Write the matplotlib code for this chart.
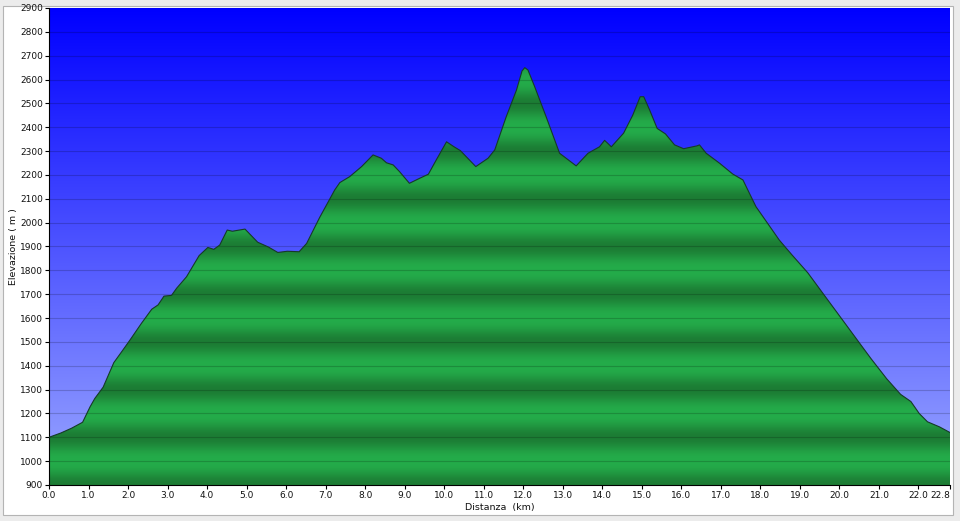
#!/usr/bin/env python3
"""Elevation profile (distance vs. elevation) rendered like the GPS-tool export."""
import numpy as np
import matplotlib
matplotlib.use("Agg")
import matplotlib.pyplot as plt
from matplotlib.patches import Rectangle

# profile
DIST_KM = [0.00, 0.30, 0.57, 0.85, 1.04, 1.16, 1.37, 1.64, 1.84, 2.05, 2.34, 2.60,
           2.76, 2.91, 3.10, 3.23, 3.48, 3.80, 4.02, 4.17, 4.32, 4.51, 4.64, 4.96,
           5.28, 5.55, 5.79, 6.03, 6.33, 6.52, 6.85, 7.23, 7.36, 7.61, 7.91, 8.20,
           8.41, 8.54, 8.71, 8.87, 9.12, 9.38, 9.60, 9.80, 10.06, 10.25, 10.41, 10.80,
           11.11, 11.28, 11.57, 11.83, 11.97, 12.04, 12.12, 12.29, 12.58, 12.92, 13.34,
           13.64, 13.93, 14.06, 14.23, 14.54, 14.77, 14.96, 15.05, 15.20, 15.39, 15.60,
           15.83, 16.06, 16.40, 16.46, 16.63, 16.97, 17.30, 17.56, 17.89, 18.48, 18.80,
           19.20, 19.60, 20.00, 20.40, 20.80, 21.20, 21.55, 21.81, 22.02, 22.23, 22.53,
           22.80]
ELEV_M = [1100, 1118, 1138, 1163, 1228, 1263, 1310, 1413, 1459, 1508, 1578, 1637,
          1655, 1692, 1695, 1725, 1773, 1862, 1896, 1888, 1906, 1969, 1964, 1973,
          1918, 1898, 1875, 1880, 1878, 1913, 2022, 2137, 2168, 2193, 2235, 2284,
          2270, 2251, 2242, 2214, 2165, 2186, 2203, 2263, 2339, 2318, 2302, 2235,
          2270, 2305, 2444, 2556, 2636, 2650, 2640, 2570, 2444, 2291, 2238,
          2291, 2318, 2345, 2318, 2375, 2450, 2528, 2528, 2472, 2395, 2372,
          2326, 2310, 2322, 2326, 2291, 2249, 2204, 2179, 2067, 1927, 1865,
          1790, 1700, 1610, 1520, 1430, 1345, 1280, 1250, 1200, 1165, 1144,
          1120]

X_TICKS = list(range(0, 23)) + [22.8]
Y_TICKS = list(range(900, 3000, 100))
X_MAX, Y_MIN, Y_MAX = 22.8, 900, 2900

W, H = 960, 521
PANEL_BG = "#ececec"
SKY_TOP = np.array([0, 0, 255]) / 255
SKY_BOTTOM = np.array([155, 168, 255]) / 255
GREEN_LIGHT = np.array([36, 172, 74]) / 255
GREEN_DARK = np.array([28, 124, 52]) / 255


def px(x0, y0, x1, y1):
    """pixel box (top-left origin) -> figure fraction rect"""
    return [x0 / W, 1 - y1 / H, (x1 - x0) / W, (y1 - y0) / H]


def main():
    fig = plt.figure(figsize=(W / 100, H / 100), dpi=100, facecolor=PANEL_BG)
    fig.patches.append(Rectangle((3 / W, 1 - 515 / H), 950 / W, 509 / H,
                                 transform=fig.transFigure, facecolor="white",
                                 edgecolor="#b4b4b4", lw=0.8, zorder=-10))
    ax = fig.add_axes(px(49, 8, 950, 485))

    # sky gradient
    t = np.linspace(0, 1, 256)[:, None]
    sky = SKY_TOP + (SKY_BOTTOM - SKY_TOP) * t
    ax.imshow(sky[:, None, :].repeat(2, axis=1), extent=(0, X_MAX, Y_MIN, Y_MAX),
              origin="upper", aspect="auto", interpolation="bilinear", zorder=0)

    # banded green terrain, clipped to the profile
    e = np.linspace(Y_MIN, Y_MAX, 1200)[:, None]
    f = ((np.cos(np.pi * (e - 1100) / 100) + 1) / 2) ** 1.3
    ground = GREEN_LIGHT + (GREEN_DARK - GREEN_LIGHT) * f
    poly = ax.fill_between(DIST_KM, ELEV_M, Y_MIN, facecolor="none", lw=0)
    im = ax.imshow(ground[:, None, :].repeat(2, axis=1), extent=(0, X_MAX, Y_MIN, Y_MAX),
                   origin="lower", aspect="auto", interpolation="bilinear", zorder=1)
    im.set_clip_path(poly.get_paths()[0], transform=ax.transData)
    ax.plot(DIST_KM, ELEV_M, color="#163a28", lw=0.8, zorder=3)

    for y in Y_TICKS[1:-1]:
        ax.axhline(y, color="black", alpha=0.18, lw=0.8, zorder=2)

    ax.set_xlim(0, X_MAX)
    ax.set_ylim(Y_MIN, Y_MAX)
    ax.set_xticks(X_TICKS)
    ax.set_xticklabels([f"{v:.1f}" for v in X_TICKS])
    ax.get_xticklabels()[-1].set_ha("right")
    ax.set_yticks(Y_TICKS)
    ax.tick_params(length=3, width=0.8, color="black", labelsize=6.5, pad=1.5,
                   labelcolor="#111111")
    for side in ("top", "right"):
        ax.spines[side].set_visible(False)
    ax.spines["left"].set_color("black")
    ax.spines["bottom"].set_color("black")
    ax.set_xlabel("Distanza  (km)", fontsize=6.8, color="#111111", labelpad=2)
    ax.set_ylabel("Elevazione ( m )", fontsize=6.8, color="#111111")
    ax.yaxis.set_label_coords(-31 / 901, 0.5)

    fig.savefig("out.png", dpi=100, facecolor=PANEL_BG)
    plt.close(fig)


if __name__ == "__main__":
    main()
